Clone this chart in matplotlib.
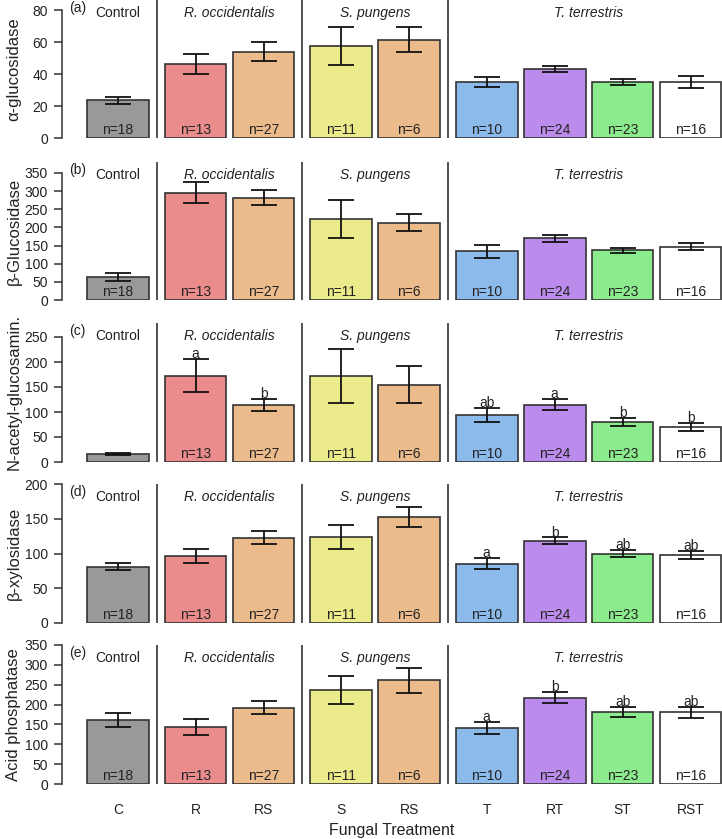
import numpy as np
import matplotlib
matplotlib.use('Agg')
import matplotlib.pyplot as plt

plt.rcParams['font.family'] = ['Liberation Sans', 'DejaVu Sans']

#=================================== data ===================================
treatments = ['C', 'R', 'RS', 'S', 'RS', 'T', 'RT', 'ST', 'RST']
n_samples = [18, 13, 27, 11, 6, 10, 24, 23, 16]
groups = ['Control', 'R. occidentalis', 'S. pungens', 'T. terrestris']
group_members = [[0], [1, 2], [3, 4], [5, 6, 7, 8]]

alpha_gluc = [23.7, 46.5, 54.0, 57.5, 61.5, 35.0, 43.3, 35.0, 35.2]
alpha_gluc_se = [2.2, 6.2, 6.0, 12.0, 7.7, 3.3, 1.8, 2.1, 3.8]

beta_gluc = [64, 296, 282, 223, 213, 134, 170, 137, 147]
beta_gluc_se = [11, 28, 21, 52, 24, 17, 9, 7, 10]

nag = [17, 173, 114, 172, 155, 94.5, 115, 79.5, 70]
nag_se = [2, 33, 12.5, 54, 37, 14.5, 11.5, 8, 8]
nag_letters = ['', 'a', 'b', '', '', 'ab', 'a', 'b', 'b']

xylo = [81, 97, 123, 124, 152, 85, 118.4, 100, 97.8]
xylo_se = [5, 10, 9.5, 17, 14.5, 8, 4.7, 4.8, 6.2]
xylo_letters = ['', '', '', '', '', 'a', 'b', 'ab', 'ab']

acid_p = [162, 143, 192, 236, 261, 141, 217.5, 181, 181]
acid_p_se = [18, 20, 16, 35, 32, 15.5, 14.5, 13, 14]
acid_p_letters = ['', '', '', '', '', 'a', 'b', 'ab', 'ab']

ylabels = ['\u03b1-glucosidase', '\u03b2-Glucosidase', 'N-acetyl-glucosamin.',
           '\u03b2-xylosidase', 'Acid phosphatase']
panel_tags = ['(a)', '(b)', '(c)', '(d)', '(e)']

bar_colors = ['#999999', '#EB8C8C', '#EBBB8C', '#EBEB8C', '#EBBB8C',
              '#8CBBEB', '#BB8CEB', '#8CEB8C', '#FFFFFF']

#=================================== layout ===================================
W, H = 722, 839
# (values, errors, letters, top px, bottom px, ylim top, top tick, tick step, hide n for control)
panels = [
    (alpha_gluc, alpha_gluc_se, None, 0, 138, 86.25, 80, 20, False),
    (beta_gluc, beta_gluc_se, None, 162, 300, 380, 350, 50, False),
    (nag, nag_se, nag_letters, 323, 462, 278, 250, 50, True),
    (xylo, xylo_se, xylo_letters, 484, 623, 200, 200, 50, False),
    (acid_p, acid_p_se, acid_p_letters, 645, 784, 350, 350, 50, False),
]

# bar positions: width 1, gap 0.1 inside group, 0.255 between groups
pos = []
x = 0.0
for gi, members in enumerate(group_members):
    for k, m in enumerate(members):
        pos.append(x)
        x += 1.1
    x += 0.155
pos = np.array(pos)

px_per_unit = 61.8
x0_px = 118
xlim = ((62 - x0_px) / px_per_unit, (W - x0_px) / px_per_unit)

fig = plt.figure(figsize=(W / 100, H / 100), dpi=100)

for i, (vals, se, letters, top, bot, ytop, ttop, tstep, hide_c) in enumerate(panels):
    ax = fig.add_axes([62 / W, 1 - bot / H, (W - 62) / W, (bot - top) / H])
    ax.set_xlim(*xlim)
    ax.set_ylim(0, ytop)
    ax.patch.set_alpha(0)

    ax.bar(pos, vals, width=1.0, color=bar_colors, edgecolor='#333333',
           linewidth=1.2, zorder=2)
    ax.errorbar(pos, vals, yerr=se, fmt='none', ecolor='#111111',
                elinewidth=1.3, capsize=9.7, capthick=1.3, zorder=3)

    for j in range(len(pos)):
        if not (hide_c and j == 0):
            ax.annotate('n=' + str(n_samples[j]), xy=(pos[j], 0), xytext=(0, 0.5),
                        textcoords='offset points', ha='center', va='bottom',
                        fontsize=10, color='#222222', zorder=4)
        if letters is not None and letters[j]:
            ax.annotate(letters[j], xy=(pos[j], vals[j] + se[j]), xytext=(0, -1.5),
                        textcoords='offset points', ha='center', va='bottom',
                        fontsize=10, color='#222222', zorder=4)

    # group separators
    for gi in range(1, len(group_members)):
        xs = (pos[group_members[gi - 1][-1]] + pos[group_members[gi][0]]) / 2
        ax.axvline(xs, ymin=0, ymax=1, color='#222222', linewidth=1.1, zorder=1)

    # group titles
    for gi, members in enumerate(group_members):
        xc = np.mean(pos[members])
        style = 'normal' if gi == 0 else 'italic'
        ax.annotate(groups[gi], xy=(xc, 1), xycoords=('data', 'axes fraction'),
                    xytext=(0, -9.5), textcoords='offset points', ha='center',
                    va='center', fontsize=10, style=style, color='#222222')

    ax.annotate(panel_tags[i], xy=(0, 1), xycoords='axes fraction',
                xytext=(11, -5.5), textcoords='offset points', ha='center',
                va='center', fontsize=10, color='#222222')

    # R-style y axis
    for s in ['top', 'right', 'bottom']:
        ax.spines[s].set_visible(False)
    ax.spines['left'].set_bounds(0, ttop)
    ax.spines['left'].set_color('#333333')
    ax.spines['left'].set_linewidth(1.1)
    ax.set_yticks(np.arange(0, ttop + 1, tstep))
    ax.tick_params(axis='y', length=6, width=1.1, color='#333333', pad=4,
                   labelsize=10, labelcolor='#222222')

    if i < len(panels) - 1:
        ax.set_xticks([])
    else:
        ax.set_xticks(pos)
        ax.set_xticklabels(treatments)
        ax.tick_params(axis='x', length=0, pad=14, labelsize=10, labelcolor='#222222')

    fig.text(14 / W, 1 - (top + bot) / 2 / H, ylabels[i], rotation=90,
             ha='center', va='center', fontsize=12, color='#222222')

fig.text(392 / W, 1 - 830 / H, 'Fungal Treatment', ha='center', va='center',
         fontsize=11.5, color='#222222')

fig.savefig('out.png', dpi=100)
